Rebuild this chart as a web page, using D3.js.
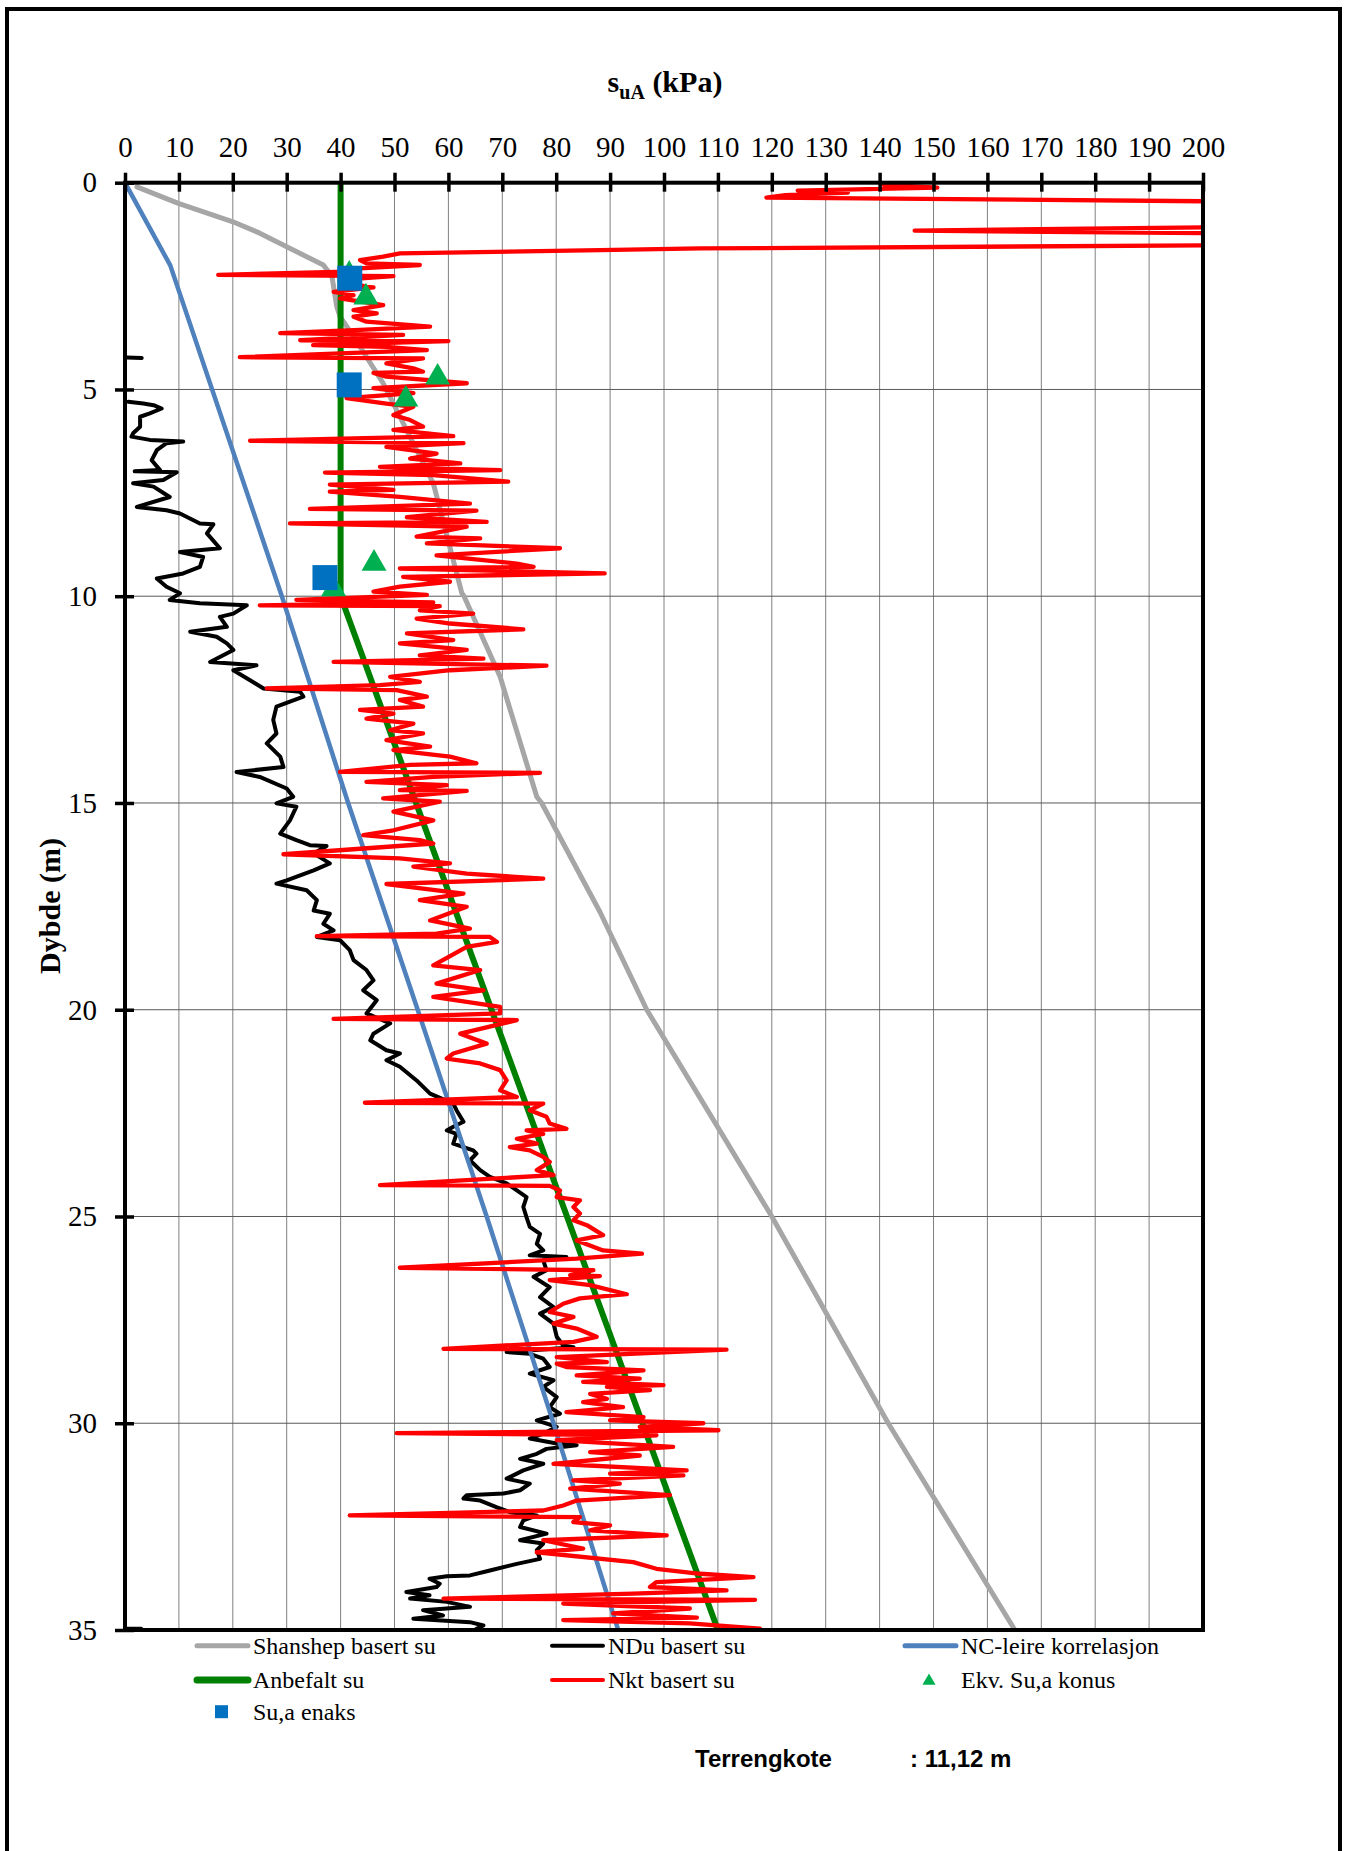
<!DOCTYPE html>
<html><head><meta charset="utf-8">
<script src="https://cdn.jsdelivr.net/npm/d3@7"></script>
<style>body{margin:0;background:#fff}</style>
</head><body>
<svg id="chart" width="1352" height="1851"></svg>
<script>
// ---------- DATA (x = s_uA in kPa, d = depth in m) ----------
const xTicks = [0,10,20,30,40,50,60,70,80,90,100,110,120,130,140,150,160,170,180,190,200];
const yTicks = [0,5,10,15,20,25,30,35];

const shanshep = [[2.2,0.1],[9.9,0.5],[19.9,0.94],[25,1.22],[30,1.55],[36.8,1.99],[38.4,2.27],[39.3,3.0],[39.9,3.24],[42.4,3.72],[47.9,4.85],[57.2,7.27],[62.5,9.93],[62.9,10],[69.6,11.95],[76.4,14.85],[77.3,15],[88.1,17.63],[96.8,20],[120,25],[141.6,30],[165.1,35]];

const ncLeire = [[0,0],[8.4,2],[29.1,10],[41.4,15],[54.3,20],[67.1,25],[79.5,30],[91.5,35]];

const anbefalt = [[40,0],[40,10],[110,35]];

const ndu = [
 [0.3,4.23],[3.1,4.24],null,
 [0.6,5.30],[3.4,5.34],[5.3,5.38],[6.8,5.46],[4.6,5.58],[2.8,5.66],[2.8,5.90],[1.5,6.06],[1.2,6.14],[4.6,6.22],[10.8,6.26],[7.7,6.30],[5.9,6.47],[4.95,6.71],[6.5,6.95],[1.8,6.98],[9.6,7.00],[7.1,7.19],[1.5,7.27],[5.3,7.35],[8.3,7.60],[2.2,7.84],[7.7,7.92],[10.2,8.00],[13.9,8.24],[16.4,8.26],[15.2,8.48],[17.6,8.84],[10.2,8.93],[14.5,9.05],[13.9,9.29],[10.8,9.45],[5.9,9.57],[7.7,9.77],[10.2,9.93],[8.3,10.09],[13.9,10.17],[22.6,10.22],[20.1,10.42],[17.6,10.50],[18.9,10.74],[12.1,10.86],[17.0,10.98],[18.9,11.14],[20.1,11.30],[15.8,11.59],[24.4,11.67],[20.1,11.79],[23.2,12.03],[25.7,12.23],[32.5,12.31],[33.1,12.43],[28.1,12.67],[27.5,12.99],[28.1,13.32],[26.3,13.56],[28.8,13.88],[29.4,14.13],[20.7,14.25],[25.0,14.37],[30.0,14.65],[31.2,14.85],[28.1,15.01],[31.8,15.09],[30.6,15.42],[28.8,15.74],[31.8,15.90],[34.3,16.02],[37.4,16.04],[35.0,16.22],[38.0,16.46],[35.0,16.63],[30.0,16.87],[28.1,16.95],[33.7,17.11],[35.6,17.35],[35.0,17.60],[38.0,17.68],[36.8,17.92],[38.7,18.08],[35.6,18.24],[39.9,18.32],[41.7,18.56],[42.4,18.80],[44.8,19.04],[46.1,19.29],[44.2,19.53],[46.7,19.77],[44.8,20.09],[49.2,20.33],[46.1,20.58],[45.5,20.74],[48.5,20.98],[51.0,21.06],[48.5,21.22],[51.0,21.38],[54.1,21.71],[56.6,22.03],[60.9,22.27],[61.5,22.43],[62.8,22.71],[60.9,22.83],[59.7,22.92],[61.5,23.00],[60.9,23.24],[64.6,23.40],[65.2,23.48],[64.0,23.64],[65.9,23.88],[67.7,24.04],[70.8,24.20],[72.7,24.37],[74.5,24.53],[73.9,24.77],[74.5,25.02],[75.1,25.25],[77.0,25.42],[76.4,25.66],[77.6,25.82],[75.1,25.94],[81.9,25.98],[77.6,26.06],[78.2,26.30],[75.8,26.46],[78.8,26.71],[77.0,26.95],[79.5,27.19],[77.0,27.35],[79.5,27.59],[80.1,27.91],[81.3,28.12],[83.2,28.16],[70.8,28.28],[75.1,28.32],[77.6,28.44],[78.8,28.64],[75.1,28.80],[79.5,28.96],[77.6,29.12],[80.1,29.37],[78.8,29.61],[80.7,29.77],[76.4,29.93],[80.1,30.09],[77.6,30.25],[75.1,30.37],[80.1,30.49],[83.8,30.53],[78.2,30.62],[76.4,30.74],[73.3,30.86],[77.6,30.98],[73.9,31.14],[70.8,31.34],[75.1,31.46],[73.3,31.62],[70.2,31.70],[63.4,31.74],[62.8,31.82],[65.9,31.87],[68.9,32.03],[71.4,32.15],[76.4,32.23],[73.9,32.35],[73.3,32.51],[78.2,32.67],[73.3,32.83],[77.6,32.91],[76.4,33.07],[77.0,33.28],[72.7,33.40],[67.7,33.56],[64.0,33.68],[59.7,33.70],[56.5,33.76],[58.4,33.88],[57.8,33.96],[52.2,34.08],[56.5,34.16],[52.9,34.24],[59.7,34.32],[64.0,34.44],[55.3,34.52],[59.0,34.65],[53.5,34.73],[64.0,34.81],[66.5,34.89],[65.2,34.97],null,
 [0.2,34.97],[3.0,34.97]
];

const nkt = [
 [140.7,0.05],[150.7,0.12],[124.8,0.19],[134.1,0.24],[122.5,0.30],[119.0,0.36],[220,0.47],[260,0.7],[260,0.95],[220,1.05],[146.5,1.16],[220,1.24],[260,1.3],[260,1.45],[220,1.5],[106.7,1.59],[88.1,1.63],[51.0,1.71],[47.9,1.79],[43.6,1.87],[44.8,1.95],[54.7,1.99],[43.6,2.07],[41.1,2.15],[17.3,2.23],[49.8,2.26],[39.9,2.35],[44.8,2.52],[46.1,2.53],[38.7,2.64],[42.4,2.72],[39.9,2.80],[47.9,2.96],[42.4,3.08],[46.7,3.16],[42.4,3.24],[44.8,3.36],[56.6,3.48],[43.6,3.56],[28.8,3.64],[51.6,3.68],[32.5,3.81],[60.0,3.83],[34.9,3.93],[48.5,3.97],[56.0,4.05],[21.3,4.22],[55.3,4.25],[48.5,4.37],[53.5,4.49],[55.3,4.57],[46.1,4.60],[48.5,4.69],[63.4,4.85],[46.1,4.97],[53.5,5.09],[41.1,5.21],[48.5,5.34],[53.5,5.42],[49.8,5.62],[52.9,5.74],[55.3,5.90],[49.8,5.98],[60.9,6.13],[23.2,6.24],[62.8,6.30],[48.5,6.39],[57.8,6.55],[52.9,6.67],[62.2,6.79],[47.3,6.87],[69.6,6.95],[37.1,7.01],[57.2,7.07],[71.1,7.23],[38.0,7.30],[49.8,7.43],[38.0,7.47],[51.0,7.60],[64.0,7.76],[34.3,7.89],[65.2,7.93],[52.3,8.09],[67.1,8.20],[30.6,8.24],[63.4,8.32],[54.1,8.56],[65.9,8.60],[56.0,8.72],[80.7,8.84],[57.8,9.01],[72.7,9.21],[75.8,9.29],[51.0,9.33],[89.0,9.45],[51.6,9.53],[60.3,9.65],[51.0,9.77],[46.1,9.89],[56.0,9.97],[31.8,10.09],[57.2,10.15],[25.0,10.22],[58.4,10.24],
 [54.7,10.34],[64.6,10.42],[54.1,10.54],[60.3,10.66],[73.9,10.80],[52.3,10.90],[60.9,11.06],[51.0,11.14],[63.4,11.30],[54.7,11.43],[66.5,11.51],[38.7,11.59],[78.2,11.68],[60.3,11.79],[49.2,11.95],[54.7,12.07],[47.3,12.15],[26.3,12.23],[50.4,12.27],[56.0,12.43],[51.0,12.51],[55.3,12.67],[43.6,12.75],[49.8,12.84],[44.8,12.96],[53.5,13.08],[49.2,13.24],[55.3,13.32],[48.5,13.48],[56.6,13.64],[49.8,13.72],[60.3,13.88],[65.2,14.04],[52.9,14.08],[39.9,14.25],[77.0,14.27],[57.2,14.37],[44.8,14.49],[59.7,14.57],[51.0,14.69],[63.4,14.71],[47.9,14.89],[58.4,14.97],[49.8,15.21],[57.2,15.42],[49.8,15.66],[44.2,15.78],[54.7,15.90],[57.2,15.98],[29.4,16.24],[51.0,16.34],[60.3,16.46],[53.5,16.54],[63.4,16.71],[77.6,16.83],[48.5,16.96],[62.8,17.19],[54.7,17.35],[63.4,17.51],[56.6,17.84],[64.0,18.04],[57.8,18.16],[35.6,18.22],[67.7,18.24],[69.0,18.36],[63.4,18.48],[57.2,18.93],[65.9,19.04],[57.8,19.37],[66.5,19.53],[57.2,19.69],[69.6,19.93],[69.6,20.09],[38.7,20.22],[72.7,20.25],[62.2,20.58],[67.1,20.82],[60.9,21.06],[59.7,21.18],[65.9,21.30],[69.6,21.46],[70.8,21.71],[69.6,21.95],[72.7,22.11],
 [44.5,22.25],[77.6,22.27],[75.1,22.43],[78.2,22.59],[78.8,22.75],[81.9,22.88],[74.5,22.92],[77.6,23.00],[72.7,23.12],[76.4,23.24],[71.4,23.32],[75.1,23.40],[77.6,23.56],[78.8,23.68],[76.4,23.88],[79.5,24.00],[47.3,24.24],[78.8,24.26],[80.7,24.37],[80.1,24.53],[84.4,24.61],[83.2,24.77],[84.4,24.93],[83.2,25.09],[85.7,25.21],[88.7,25.45],[83.8,25.58],[88.7,25.82],[95.9,25.90],[83.8,26.02],[51.0,26.24],[86.9,26.30],[82.6,26.42],[88.1,26.44],[78.8,26.54],[86.3,26.66],[93.1,26.88],[84.4,26.98],[81.3,27.11],[78.8,27.31],[83.2,27.43],[79.5,27.59],[83.8,27.71],[87.5,27.91],[83.2,28.03],[59.1,28.20],[111.6,28.22],[80.1,28.40],[89.4,28.52],
 [80.1,28.56],[81.9,28.64],[96.2,28.72],[83.8,28.84],[95.5,28.92],[85.0,29.00],[99.9,29.08],[89.4,29.12],[97.4,29.20],[86.3,29.29],[89.4,29.41],[85.0,29.49],[92.4,29.61],[81.9,29.73],[96.2,29.85],[90.0,29.93],[107.3,30.00],[95.5,30.09],[110.1,30.17],[50.4,30.24],[98.6,30.29],[80.1,30.41],[101.7,30.57],[86.3,30.70],[95.5,30.78],[79.5,30.98],[104.2,31.14],[90.0,31.22],[103.6,31.26],[83.2,31.38],[91.8,31.46],[82.6,31.58],[101.1,31.74],[83.8,31.87],[81.3,31.99],[77.6,32.11],[41.7,32.23],[84.4,32.27],[83.2,32.39],[90.0,32.47],[86.3,32.59],[100.5,32.71],[77.6,32.83],[85.0,33.03],[76.4,33.12],[94.3,33.36],[98.6,33.52],[106.7,33.64],[116.6,33.72],[98.6,33.84],[97.4,33.96],[111.6,34.04],[94.3,34.12],[59.1,34.24],[116.9,34.27],[81.3,34.36],[104.8,34.48],[90.6,34.60],[106.1,34.70],[81.3,34.76],[104.8,34.84],[117.8,34.97]
];

const ekvKonus = [[41.6,2.17],[44.7,2.72],[58.0,4.66],[52.1,5.19],[46.2,9.16],[38.7,9.78]];
const suaEnaks = [[41.7,2.31],[41.6,4.89],[37.1,9.55]];

const legendItems = [
 {name:"Shanshep basert su", type:"line", color:"#A6A6A6", w:5},
 {name:"NDu basert su", type:"line", color:"#000000", w:4},
 {name:"NC-leire korrelasjon", type:"line", color:"#4F81BD", w:5},
 {name:"Anbefalt su", type:"line", color:"#008000", w:7},
 {name:"Nkt basert su", type:"line", color:"#FF0000", w:4},
 {name:"Ekv. Su,a konus", type:"tri", color:"#00B050"},
 {name:"Su,a enaks", type:"sq", color:"#0070C0"}
];

// ---------- DRAWING ----------
const svg = d3.select("#chart");
const L = 125, R = 1203, T = 182.7, B = 1630;
const x = d3.scaleLinear().domain([0,200]).range([L,R]);
const y = d3.scaleLinear().domain([0,35]).range([T,B]);
const serif = "'Liberation Serif','Times New Roman',serif";

svg.append("rect").attr("width",1352).attr("height",1851).attr("fill","#fff");
svg.append("rect").attr("x",7).attr("y",9).attr("width",1333).attr("height",1900)
  .attr("fill","none").attr("stroke","#000").attr("stroke-width",4);

// grid
const grid = svg.append("g");
grid.selectAll(".vg").data(xTicks.slice(1,-1)).join("line")
  .attr("x1",d=>x(d)).attr("x2",d=>x(d)).attr("y1",T).attr("y2",B)
  .attr("stroke","#808080").attr("stroke-width",1);
grid.selectAll(".hg").data(yTicks.slice(1,-1)).join("line")
  .attr("y1",d=>y(d)).attr("y2",d=>y(d)).attr("x1",L).attr("x2",R)
  .attr("stroke","#595959").attr("stroke-width",1);

svg.append("clipPath").attr("id","clip").append("rect")
  .attr("x",L).attr("y",T).attr("width",R-L).attr("height",B-T);

const plot = svg.append("g").attr("clip-path","url(#clip)");
const line = d3.line().defined(d=>d!==null).x(d=>x(d[0])).y(d=>y(d[1]));

function drawLine(data,color,w){
  plot.append("path").datum(data).attr("d",line).attr("fill","none")
    .attr("stroke",color).attr("stroke-width",w)
    .attr("stroke-linejoin","round").attr("stroke-linecap","round");
}
drawLine(shanshep,"#A6A6A6",5);
drawLine(ndu,"#000000",4);
drawLine(ncLeire,"#4F81BD",4.5);
drawLine(anbefalt,"#008000",6);
drawLine(nkt,"#FF0000",4.3);

const tri = d3.symbol().type(d3.symbolTriangle).size(270);
plot.selectAll(".tri").data(ekvKonus).join("path")
  .attr("d",tri).attr("transform",d=>`translate(${x(d[0])},${y(d[1])+2})`)
  .attr("fill","#00B050");
plot.selectAll(".sq").data(suaEnaks).join("rect")
  .attr("x",d=>x(d[0])-12.5).attr("y",d=>y(d[1])-12.5)
  .attr("width",25).attr("height",25).attr("fill","#0070C0");

// frame
svg.append("rect").attr("x",L).attr("y",T).attr("width",R-L).attr("height",B-T)
  .attr("fill","none").attr("stroke","#000").attr("stroke-width",4);

// axes
const xAxis = svg.append("g").attr("transform",`translate(0,${T})`)
  .call(d3.axisTop(x).tickValues(xTicks).tickSize(10).tickPadding(16).tickFormat(d3.format("d")));
xAxis.select(".domain").remove();
xAxis.selectAll(".tick line").attr("y1",9).attr("stroke-width",3.5);
xAxis.selectAll("text").attr("font-family",serif).attr("font-size",29).attr("fill","#000");

const yAxis = svg.append("g").attr("transform",`translate(${L},0)`)
  .call(d3.axisLeft(y).tickValues(yTicks).tickSize(10).tickPadding(18).tickFormat(d3.format("d")));
yAxis.select(".domain").remove();
yAxis.selectAll(".tick line").attr("x1",9).attr("stroke-width",3.5);
yAxis.selectAll("text").attr("font-family",serif).attr("font-size",29).attr("fill","#000");

// titles
const tt = svg.append("text").attr("x",665).attr("y",92).attr("text-anchor","middle")
  .attr("font-family",serif).attr("font-weight","bold").attr("font-size",30);
tt.append("tspan").text("s");
tt.append("tspan").attr("font-size",20).attr("dy",7).text("uA");
tt.append("tspan").attr("dy",-7).text(" (kPa)");

svg.append("text").attr("transform","translate(60,906) rotate(-90)")
  .attr("text-anchor","middle").attr("font-family",serif).attr("font-weight","bold")
  .attr("font-size",30).text("Dybde (m)");

// legend
const colX = [195,550,903], rowY = [1645.7,1680,1711.7];
legendItems.forEach((it,i)=>{
  const cx = colX[i%3], cy = rowY[Math.floor(i/3)];
  const g = svg.append("g");
  if(it.type==="line"){
    g.append("line").attr("x1",cx+2).attr("x2",cx+53).attr("y1",cy).attr("y2",cy)
      .attr("stroke",it.color).attr("stroke-width",it.w).attr("stroke-linecap","round");
  } else if(it.type==="tri"){
    g.append("path").attr("d",d3.symbol().type(d3.symbolTriangle).size(75)())
      .attr("transform",`translate(${cx+26},${cy+1})`).attr("fill",it.color);
  } else {
    g.append("rect").attr("x",cx+20).attr("y",cy-6.5).attr("width",13).attr("height",13).attr("fill",it.color);
  }
  g.append("text").attr("x",cx+58).attr("y",cy+8).attr("font-family",serif)
    .attr("font-size",24).attr("fill","#000").text(it.name);
});

svg.append("text").attr("x",695).attr("y",1767).attr("font-family","'Liberation Sans',Arial,sans-serif")
  .attr("font-weight","bold").attr("font-size",24).text("Terrengkote");
svg.append("text").attr("x",910).attr("y",1767).attr("font-family","'Liberation Sans',Arial,sans-serif")
  .attr("font-weight","bold").attr("font-size",24).text(": 11,12 m");
</script>
</body></html>
